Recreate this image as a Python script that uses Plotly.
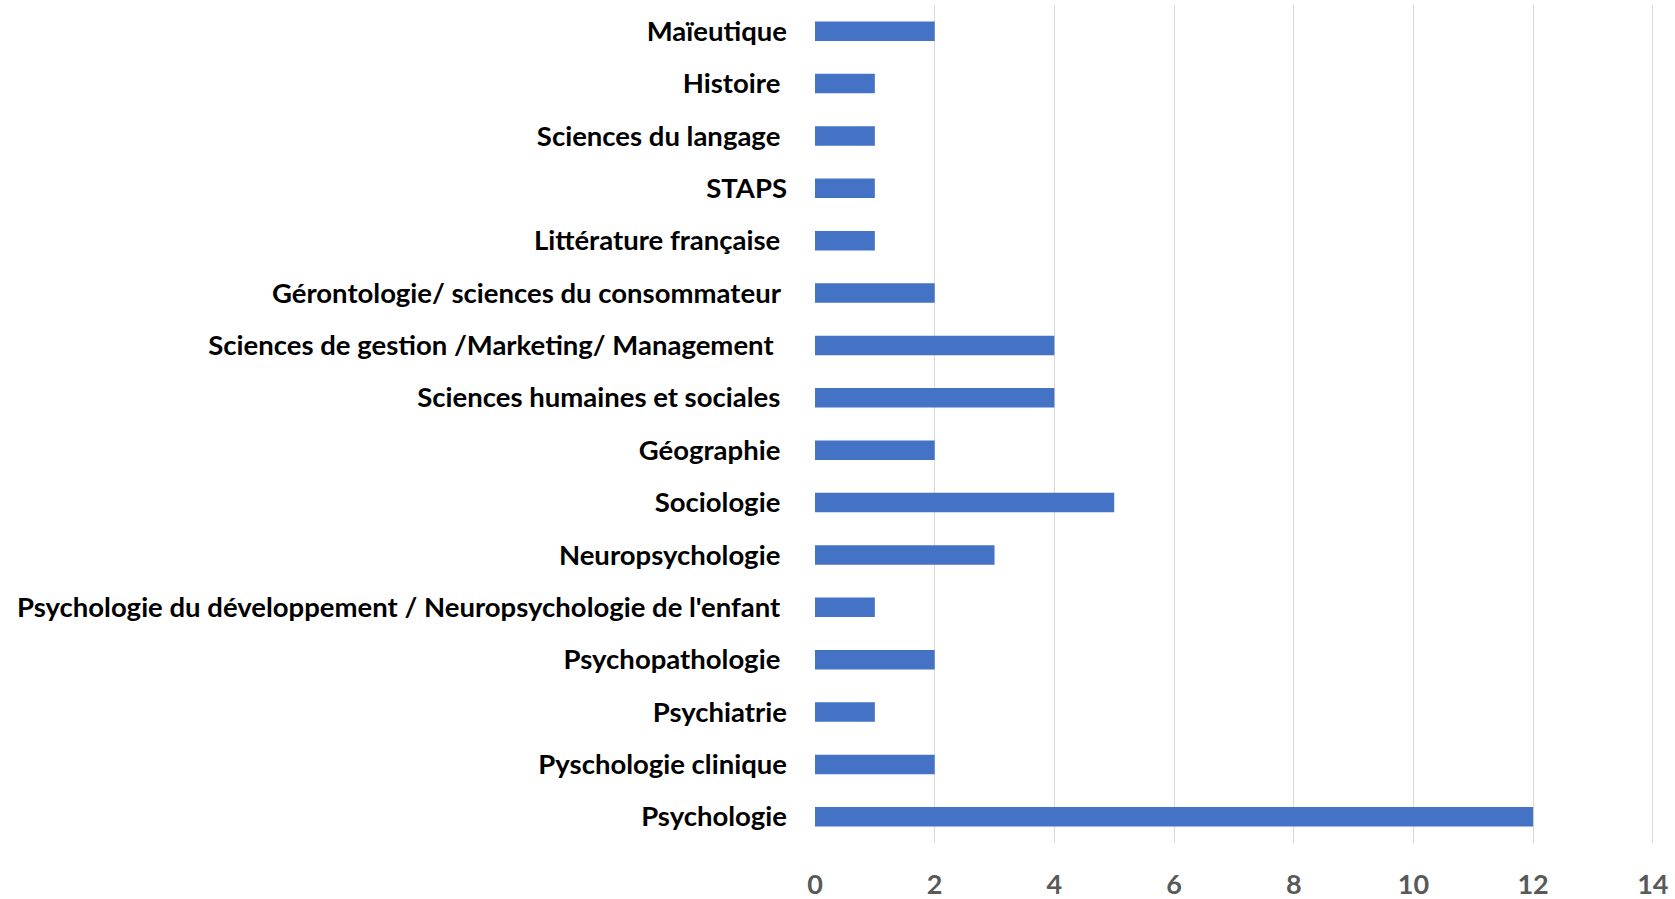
import plotly.graph_objects as go

# Categories top-to-bottom (trailing spaces as in source labels)
categories = [
    "Maïeutique",
    "Histoire ",
    "Sciences du langage ",
    "STAPS",
    "Littérature française ",
    "Gérontologie/ sciences du consommateur ",
    "Sciences de gestion /Marketing/ Management  ",
    "Sciences humaines et sociales ",
    "Géographie ",
    "Sociologie ",
    "Neuropsychologie ",
    "Psychologie du développement / Neuropsychologie de l'enfant ",
    "Psychopathologie ",
    "Psychiatrie",
    "Pyschologie clinique",
    "Psychologie",
]
values = [2, 1, 1, 1, 1, 2, 4, 4, 2, 5, 3, 1, 2, 1, 2, 12]
x_ticks = [0, 2, 4, 6, 8, 10, 12, 14]

def nbsp_trailing(s):
    core = s.rstrip(" ")
    return core + "\u00a0" * (len(s) - len(core))

fig = go.Figure(
    go.Bar(
        x=values,
        y=categories,
        orientation="h",
        marker=dict(color="#4472C4", line=dict(width=0)),
        width=0.37,
    )
)

FONT = "Lato, 'Open Sans', sans-serif"

fig.update_layout(
    width=1675,
    height=899,
    margin=dict(l=815, r=21, t=5, b=56),
    paper_bgcolor="white",
    plot_bgcolor="white",
    showlegend=False,
    font=dict(family=FONT),
)
fig.update_xaxes(
    range=[0, 14.02],
    tickvals=x_ticks,
    ticktext=[str(v) for v in x_ticks],
    showgrid=True,
    gridcolor="#D9D9D9",
    gridwidth=1.4,
    zeroline=False,
    showline=False,
    ticks="",
    tickfont=dict(family=FONT, size=27, color="#595959", weight=700),
    ticklabelstandoff=23,
    automargin=False,
)
fig.update_yaxes(
    autorange="reversed",
    tickvals=categories,
    ticktext=[nbsp_trailing(c) for c in categories],
    showgrid=False,
    zeroline=False,
    showline=False,
    ticks="",
    tickfont=dict(family=FONT, size=27.5, color="#000000", weight=700),
    ticklabelstandoff=27,
    automargin=False,
)

# remove the browser's default 8px body margin so the figure fills the window
fig.write_html(
    "out.html",
    config={"displayModeBar": False},
    post_script="document.body.style.margin='0';document.body.style.overflow='hidden';",
)
